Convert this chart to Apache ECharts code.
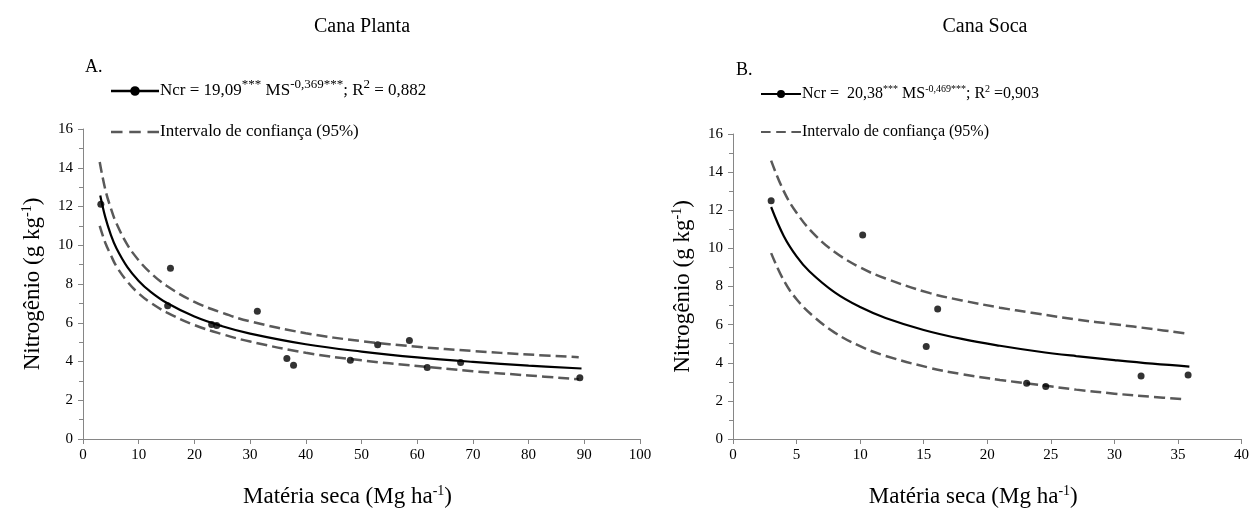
<!DOCTYPE html>
<html>
<head>
<meta charset="utf-8">
<script src="https://cdn.jsdelivr.net/npm/echarts@6/dist/echarts.min.js"></script>
<style>
  html, body { margin: 0; padding: 0; background: #fff; }
  #chart { width: 1252px; height: 517px; }
</style>
</head>
<body>
<div id="chart"></div>
<script>
// ---- Cana Planta (A) ----
const plantaMS = [3.2, 15.2, 15.7, 23.1, 24.0, 31.3, 36.6, 37.8, 48.0, 52.9, 58.6, 61.8, 67.8, 89.2];
const plantaN  = [12.12, 6.88, 8.81, 5.91, 5.86, 6.6, 4.15, 3.81, 4.07, 4.87, 5.08, 3.69, 3.95, 3.16];
const plantaFitMS = [3.1, 4, 5, 6, 8, 10, 12, 15, 20, 25, 30, 40, 50, 60, 70, 80, 89.5];
const plantaFitN  = [12.57, 11.45, 10.54, 9.85, 8.86, 8.16, 7.63, 7.03, 6.32, 5.82, 5.44, 4.89, 4.51, 4.21, 3.98, 3.79, 3.64];
const plantaCiMS    = [3, 4, 5, 6, 8, 10, 12, 15, 20, 25, 30, 40, 50, 60, 70, 80, 89];
const plantaCiUpper = [14.3, 12.88, 11.91, 11.13, 10.01, 9.22, 8.61, 7.91, 7.08, 6.51, 6.07, 5.46, 5.05, 4.76, 4.54, 4.36, 4.22];
const plantaCiLower = [11.0, 10.13, 9.49, 8.91, 8.11, 7.51, 7.06, 6.54, 5.88, 5.41, 5.03, 4.45, 4.06, 3.77, 3.50, 3.28, 3.08];
const plantaXRange = [0, 100, 10];

// ---- Cana Soca (B) ----
const socaMS = [3.0, 10.2, 15.2, 16.1, 23.1, 24.6, 32.1, 35.8];
const socaN  = [12.5, 10.7, 4.85, 6.82, 2.93, 2.75, 3.31, 3.36];
const socaFitMS = [3, 4, 5, 6, 8, 10, 12, 15, 18, 21, 24, 27, 30, 33, 35.9];
const socaFitN  = [12.17, 10.64, 9.58, 8.80, 7.69, 6.92, 6.35, 5.72, 5.25, 4.89, 4.59, 4.35, 4.14, 3.95, 3.80];
const socaCiMS    = [3, 4, 5, 6.3, 8, 10, 12, 15.5, 18, 21, 23.5, 27, 30, 33, 35.6];
const socaCiUpper = [14.6, 12.99, 11.87, 10.80, 9.81, 9.00, 8.42, 7.65, 7.27, 6.89, 6.62, 6.27, 6.02, 5.77, 5.54];
const socaCiLower = [9.75, 8.31, 7.33, 6.45, 5.58, 4.87, 4.36, 3.73, 3.40, 3.10, 2.89, 2.59, 2.38, 2.21, 2.08];
const socaXRange = [0, 40, 5];

const yRange = [0, 16, 2];

const panelTitles = ['Cana Planta', 'Cana Soca'];
const panelLetters = ['A.', 'B.'];
const fitLabels = [
  'Ncr = 19,09{s|***} MS{s|-0,369***}; R{s|2} = 0,882',
  'Ncr =  20,38{s|***} MS{s|-0,469***}; R{s|2} =0,903'
];
const ciLabel = 'Intervalo de confiança (95%)';
const xName = 'Matéria seca (Mg ha{s|-1})';
const yName = 'Nitrogênio (g kg{s|-1})';

const SERIF = "'Liberation Serif', 'Times New Roman', serif";
const AXIS_GRAY = '#868686';
const CI_GRAY = '#595959';

const pairs = (xs, ys) => xs.map((x, i) => [x, ys[i]]);

// legend icons: solid line with a dot, and a three-dash line (bbox pinned to 50x10)
const PIN = 'M0,0h0.01v0.01h-0.01Z M49.99,9.99h0.01v0.01h-0.01Z ';
const iconFit = 'path://' + PIN + 'M0,3.8H50V6.2H0Z M20,5A5,5 0 1,1 30,5A5,5 0 1,1 20,5Z';
const iconCi = 'path://' + PIN + 'M0,3.7H12V6.3H0Z M19,3.7H31V6.3H19Z M38,3.7H50V6.3H38Z';

// superscript token: sits at the top of a taller line box
const supRich = (size) => ({
  s: { fontSize: size, fontFamily: SERIF, color: '#000', verticalAlign: 'top', lineHeight: size + 1 }
});

function xAxisFor(gridIndex, range) {
  return {
    type: 'value', gridIndex,
    min: range[0], max: range[1], interval: range[2],
    name: xName, nameLocation: 'middle', nameGap: 45,
    nameTextStyle: { fontFamily: SERIF, fontSize: 23, color: '#000', lineHeight: 26, padding: [0, 28, 0, 0], rich: supRich(14) },
    axisLine: { show: true, onZero: false, lineStyle: { color: AXIS_GRAY, width: 1 } },
    axisTick: { show: true, inside: false, length: 5, lineStyle: { color: AXIS_GRAY } },
    axisLabel: { fontFamily: SERIF, fontSize: 15, color: '#000', margin: 9 },
    splitLine: { show: false }
  };
}

function yAxesFor(gridIndex) {
  return [
    {
      type: 'value', gridIndex,
      min: yRange[0], max: yRange[1], interval: yRange[2],
      name: yName, nameLocation: 'middle', nameGap: 37, nameRotate: 90,
      nameTextStyle: { fontFamily: SERIF, fontSize: 23, color: '#000', lineHeight: 26, rich: supRich(14) },
      axisLine: { show: true, onZero: false, lineStyle: { color: AXIS_GRAY, width: 1 } },
      axisTick: { show: true, inside: false, length: 5, lineStyle: { color: AXIS_GRAY } },
      axisLabel: { fontFamily: SERIF, fontSize: 15, color: '#000', margin: 10 },
      splitLine: { show: false }
    },
    {
      // inner half of the crossing major ticks plus inside minor ticks
      type: 'value', gridIndex,
      min: yRange[0], max: yRange[1], interval: yRange[2],
      axisLine: { show: false },
      axisTick: { show: true, inside: true, length: 5, lineStyle: { color: AXIS_GRAY } },
      minorTick: { show: true, splitNumber: 2, length: 4, lineStyle: { color: AXIS_GRAY } },
      axisLabel: { show: false },
      splitLine: { show: false }
    }
  ];
}

function seriesFor(idx, ms, n, fitMS, fitN, ciMS, ciUp, ciLo) {
  const axes = { xAxisIndex: idx, yAxisIndex: idx * 2 };
  const fitName = 'fit' + idx, ciName = 'ci' + idx;
  const dashed = { color: CI_GRAY, width: 2.5, type: [11, 5] };
  return [
    Object.assign({
      type: 'line', name: ciName, data: pairs(ciMS, ciUp),
      smooth: 0.4, showSymbol: false, symbol: 'none',
      color: CI_GRAY, lineStyle: dashed, z: 2
    }, axes),
    Object.assign({
      type: 'line', name: ciName, data: pairs(ciMS, ciLo),
      smooth: 0.4, showSymbol: false, symbol: 'none',
      color: CI_GRAY, lineStyle: dashed, z: 2
    }, axes),
    Object.assign({
      type: 'line', name: fitName, data: pairs(fitMS, fitN),
      smooth: 0.4, showSymbol: false, symbol: 'none',
      color: '#000', lineStyle: { color: '#000', width: 2.2 }, z: 3
    }, axes),
    Object.assign({
      type: 'scatter', name: 'pts' + idx, data: pairs(ms, n),
      symbol: 'circle', symbolSize: 7, itemStyle: { color: '#000' }, z: 4
    }, axes)
  ];
}

function legendFor(idx, left, top, gap, fontSize, supSize, lineHeight, iconW) {
  const names = { ['fit' + idx]: fitLabels[idx], ['ci' + idx]: ciLabel };
  return {
    orient: 'vertical', left, top, itemGap: gap,
    itemWidth: iconW, itemHeight: 10, selectedMode: false,
    data: [
      { name: 'fit' + idx, icon: iconFit, itemStyle: { color: '#000', borderWidth: 0 } },
      { name: 'ci' + idx, icon: iconCi, itemStyle: { color: CI_GRAY, borderWidth: 0 } }
    ],
    formatter: (name) => names[name],
    textStyle: {
      fontFamily: SERIF, fontSize, color: '#000', lineHeight, padding: [0, 0, 0, -4],
      rich: supRich(supSize)
    }
  };
}

const chart = echarts.init(document.getElementById('chart'), null, { renderer: 'canvas' });
chart.setOption({
  animation: false,
  backgroundColor: '#fff',
  grid: [
    { left: 83, right: 612, top: 129, bottom: 78 },
    { left: 733, right: 10, top: 134, bottom: 78 }
  ],
  xAxis: [xAxisFor(0, plantaXRange), xAxisFor(1, socaXRange)],
  yAxis: yAxesFor(0).concat(yAxesFor(1)),
  legend: [
    legendFor(0, 106, 73, 15, 17, 13, 26, 48),
    legendFor(1, 756, 79, 18, 16, 10, 20, 40)
  ],
  graphic: [
    { type: 'text', x: 362, y: 27, style: { text: panelTitles[0], font: '20px ' + SERIF, fill: '#000', textAlign: 'center', textVerticalAlign: 'middle' } },
    { type: 'text', x: 985, y: 27, style: { text: panelTitles[1], font: '20px ' + SERIF, fill: '#000', textAlign: 'center', textVerticalAlign: 'middle' } },
    { type: 'text', x: 85, y: 67, style: { text: panelLetters[0], font: '18px ' + SERIF, fill: '#000', textAlign: 'left', textVerticalAlign: 'middle' } },
    { type: 'text', x: 736, y: 70, style: { text: panelLetters[1], font: '18px ' + SERIF, fill: '#000', textAlign: 'left', textVerticalAlign: 'middle' } }
  ],
  series: [].concat(
    seriesFor(0, plantaMS, plantaN, plantaFitMS, plantaFitN, plantaCiMS, plantaCiUpper, plantaCiLower),
    seriesFor(1, socaMS, socaN, socaFitMS, socaFitN, socaCiMS, socaCiUpper, socaCiLower)
  )
});
</script>
</body>
</html>
